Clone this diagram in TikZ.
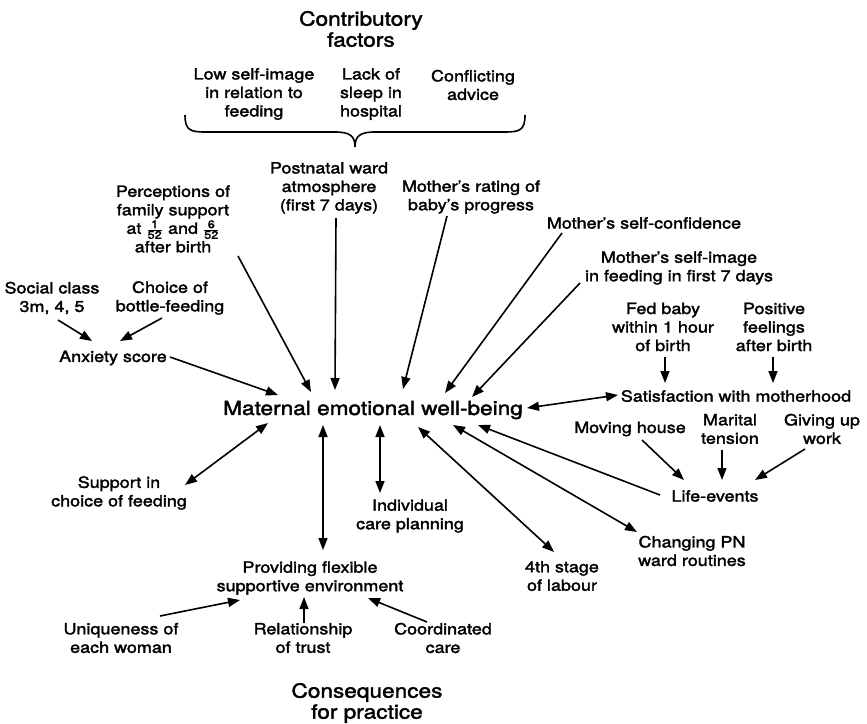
\documentclass[tikz,border=0pt]{standalone}
\usepackage{fontspec}
\setmainfont{TeX Gyre Heros}[FakeStretch=1.16,FakeBold=2]
\usetikzlibrary{arrows.meta,calc}
\newcommand\wkfrac[2]{$\frac{\mbox{\fontsize{11}{11}\selectfont#1}}{\mbox{\fontsize{11}{11}\selectfont#2}}$}
\begin{document}
\begin{tikzpicture}[x=1pt,y=-1pt,
  lbl/.style={align=center, inner sep=0pt, font=\fontsize{15.5}{18.5}\selectfont},
  big/.style={align=center, inner sep=0pt, font=\fontsize{19.5}{21}\selectfont},
  arr/.style={-{Triangle[length=12pt,width=9pt]}, line width=1.6pt},
  darr/.style={{Triangle[length=12pt,width=9pt]}-{Triangle[length=12pt,width=9pt]}, line width=1.6pt}]
\useasboundingbox (0,0) rectangle (867,723);

% headings
\node[big] (contrib) at (361,29) {Contributory\\factors};
\node[big] (conseq) at (367,703) {Consequences\\for practice};

% contributory factors under the brace
\node[lbl] (lowself) at (254,94) {Low self-image\\in relation to\\feeding};
\node[lbl] (lack) at (371,94) {Lack of\\sleep in\\hospital};
\node[lbl] (confl) at (473,85) {Conflicting\\advice};
\draw[line width=1.6pt] (185,115) .. controls (185,130) and (190,132) .. (205,132)
  -- (335,132) .. controls (350,132) and (355,136) .. (355,147)
  .. controls (355,136) and (360,132) .. (375,132)
  -- (505,132) .. controls (520,132) and (525,130) .. (525,115);

% central node
\node[big] (mat) at (373,410) {Maternal emotional well-being};

% influences
\node[lbl] (perc) at (173,219) {Perceptions of\\family support\\at \wkfrac{1}{52} and \wkfrac{6}{52}\\after birth};
\node[lbl] (postn) at (329,188) {Postnatal ward\\atmosphere\\(first 7 days)};
\node[lbl] (rating) at (471,197) {Mother's rating of\\baby's progress};
\node[lbl] (conf) at (644,223) {Mother's self-confidence};
\node[lbl] (selfimg) at (679,268) {Mother's self-image\\in feeding in first 7 days};
\node[lbl] (fed) at (663,327) {Fed baby\\within 1 hour\\of birth};
\node[lbl] (pos) at (774,327) {Positive\\feelings\\after birth};
\node[lbl] (satis) at (736,396) {Satisfaction with motherhood};
\node[lbl] (moving) at (630,429) {Moving house};
\node[lbl] (marital) at (730,429) {Marital\\tension};
\node[lbl] (giving) at (822,429) {Giving up\\work};
\node[lbl] (life) at (715,496) {Life-events};
\node[lbl] (changing) at (692,551) {Changing PN\\ward routines};
\node[lbl] (fourth) at (562,576) {4th stage\\of labour};
\node[lbl] (indiv) at (410,516) {Individual\\care planning};
\node[lbl] (prov) at (310,578) {Providing flexible\\supportive environment};
\node[lbl] (uniq) at (121,638) {Uniqueness of\\each woman};
\node[lbl] (trust) at (303,638) {Relationship\\of trust};
\node[lbl] (coord) at (443,638) {Coordinated\\care};
\node[lbl] (support) at (119,493) {Support in\\choice of feeding};
\node[lbl] (anx) at (113,358) {Anxiety score};
\node[lbl] (social) at (52,298) {Social class\\3m, 4, 5};
\node[lbl] (choice) at (170,298) {Choice of\\bottle-feeding};

% anxiety
\draw[arr] ($(social)+(6,22)$) -- ($(anx)+(-21,-17)$);
\draw[arr] ($(choice)+(-8,20)$) -- ($(anx)+(7,-17)$);
\draw[arr] ($(anx)+(57,-1)$) -- ($(mat)+(-95,-15)$);

% arrows into the central node
\draw[arr] ($(perc)+(65,37)$) -- ($(mat)+(-62,-18)$);
\draw[arr] ($(postn)+(7,30)$) -- ($(mat)+(-38,-20)$);
\draw[arr] ($(rating)+(-24,19)$) -- ($(mat)+(30,-21)$);
\draw[arr] ($(conf)+(-82,10)$) -- ($(mat)+(72,-17)$);
\draw[arr] ($(selfimg)+(-99,15)$) -- ($(mat)+(99,-13)$);

% satisfaction with motherhood
\draw[arr] ($(fed)+(2,30)$) -- ($(satis)+(-71,-13)$);
\draw[arr] ($(pos)+(-1,30)$) -- ($(satis)+(37,-13)$);
\draw[darr] ($(mat)+(154,-2)$) -- ($(satis)+(-118,-1)$);

% life-events
\draw[arr] ($(moving)+(12,11)$) -- ($(life)+(-31,-16)$);
\draw[arr] ($(marital)+(-8,21)$) -- ($(life)+(7,-16)$);
\draw[arr] ($(giving)+(-17,20)$) -- ($(life)+(40,-16)$);
\draw[arr] ($(life)+(-55,-1)$) -- ($(mat)+(105,15)$);

% consequences for practice
\draw[darr] ($(mat)+(80,15)$) -- ($(changing)+(-55,-19)$);
\draw[darr] ($(mat)+(45,17)$) -- ($(fourth)+(-8,-24)$);
\draw[darr] ($(mat)+(7,15)$) -- ($(indiv)+(-30,-23)$);
\draw[darr] ($(mat)+(-50,15)$) -- ($(prov)+(13,-28)$);
\draw[darr] ($(mat)+(-105,13)$) -- ($(support)+(66,-8)$);
\draw[arr] ($(uniq)+(39,-22)$) -- ($(prov)+(-70,22)$);
\draw[arr] ($(trust)+(1,-15)$) -- ($(prov)+(-6,19)$);
\draw[arr] ($(coord)+(-16,-16)$) -- ($(prov)+(58,20)$);
\end{tikzpicture}
\end{document}
